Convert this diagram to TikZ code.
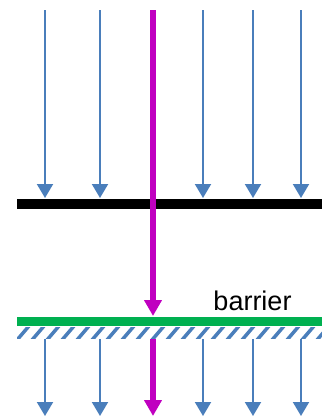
\documentclass[tikz,border=0pt]{standalone}
\usepackage{fontspec}
\setmainfont{Liberation Sans}
\usetikzlibrary{arrows.meta}
\definecolor{ablue}{RGB}{74,126,187}
\definecolor{amag}{RGB}{192,0,192}
\definecolor{agreen}{RGB}{0,176,80}
\tikzset{
  bluearrow/.style={draw=ablue, line width=2pt, -{Triangle[width=16pt,length=14pt]}, color=ablue},
  magarrow/.style={draw=amag, line width=6pt, -{Triangle[width=17pt,length=16pt]}, color=amag},
  barline/.style={line width=10pt},
  hatchline/.style={draw=ablue, line width=3.5pt},
}
\begin{document}
\begin{tikzpicture}[x=1pt,y=-1pt]
\useasboundingbox (0,0) rectangle (322,416);
% bars
\coordinate (bl) at (17,204);
\coordinate (br) at (322,204);
\draw[barline, black] (bl) -- (br);
\coordinate (gl) at (17,321.5);
\coordinate (gr) at (322,321.5);
\draw[barline, line width=9pt, agreen] (gl) -- (gr);
% hatch
\begin{scope}
\clip (17,327.5) rectangle (322,338.5);
\foreach \k in {0,...,21} {
  \draw[hatchline] ({17+15*\k},340) -- ({17+15*\k+12},326);
}
\end{scope}
% top blue arrows
\foreach \n/\x in {a/45,b/100,c/203,d/253,e/301} {
  \coordinate (t\n) at (\x,10);
  \coordinate (h\n) at (\x,198);
  \draw[bluearrow] (t\n) -- (h\n);
  \coordinate (s\n) at (\x,339);
  \coordinate (f\n) at (\x,416);
  \draw[bluearrow] (s\n) -- (f\n);
}
% magenta
\coordinate (mt) at (153,10);
\coordinate (mh) at (153,316);
\draw[magarrow] (mt) -- (mh);
\coordinate (ms) at (153,339);
\coordinate (mf) at (153,416);
\draw[magarrow] (ms) -- (mf);
% label
\node[font=\fontsize{27}{32}\selectfont, anchor=base, inner sep=0pt] (lbl) at (252.5,310) {barrier};
\end{tikzpicture}
\end{document}
